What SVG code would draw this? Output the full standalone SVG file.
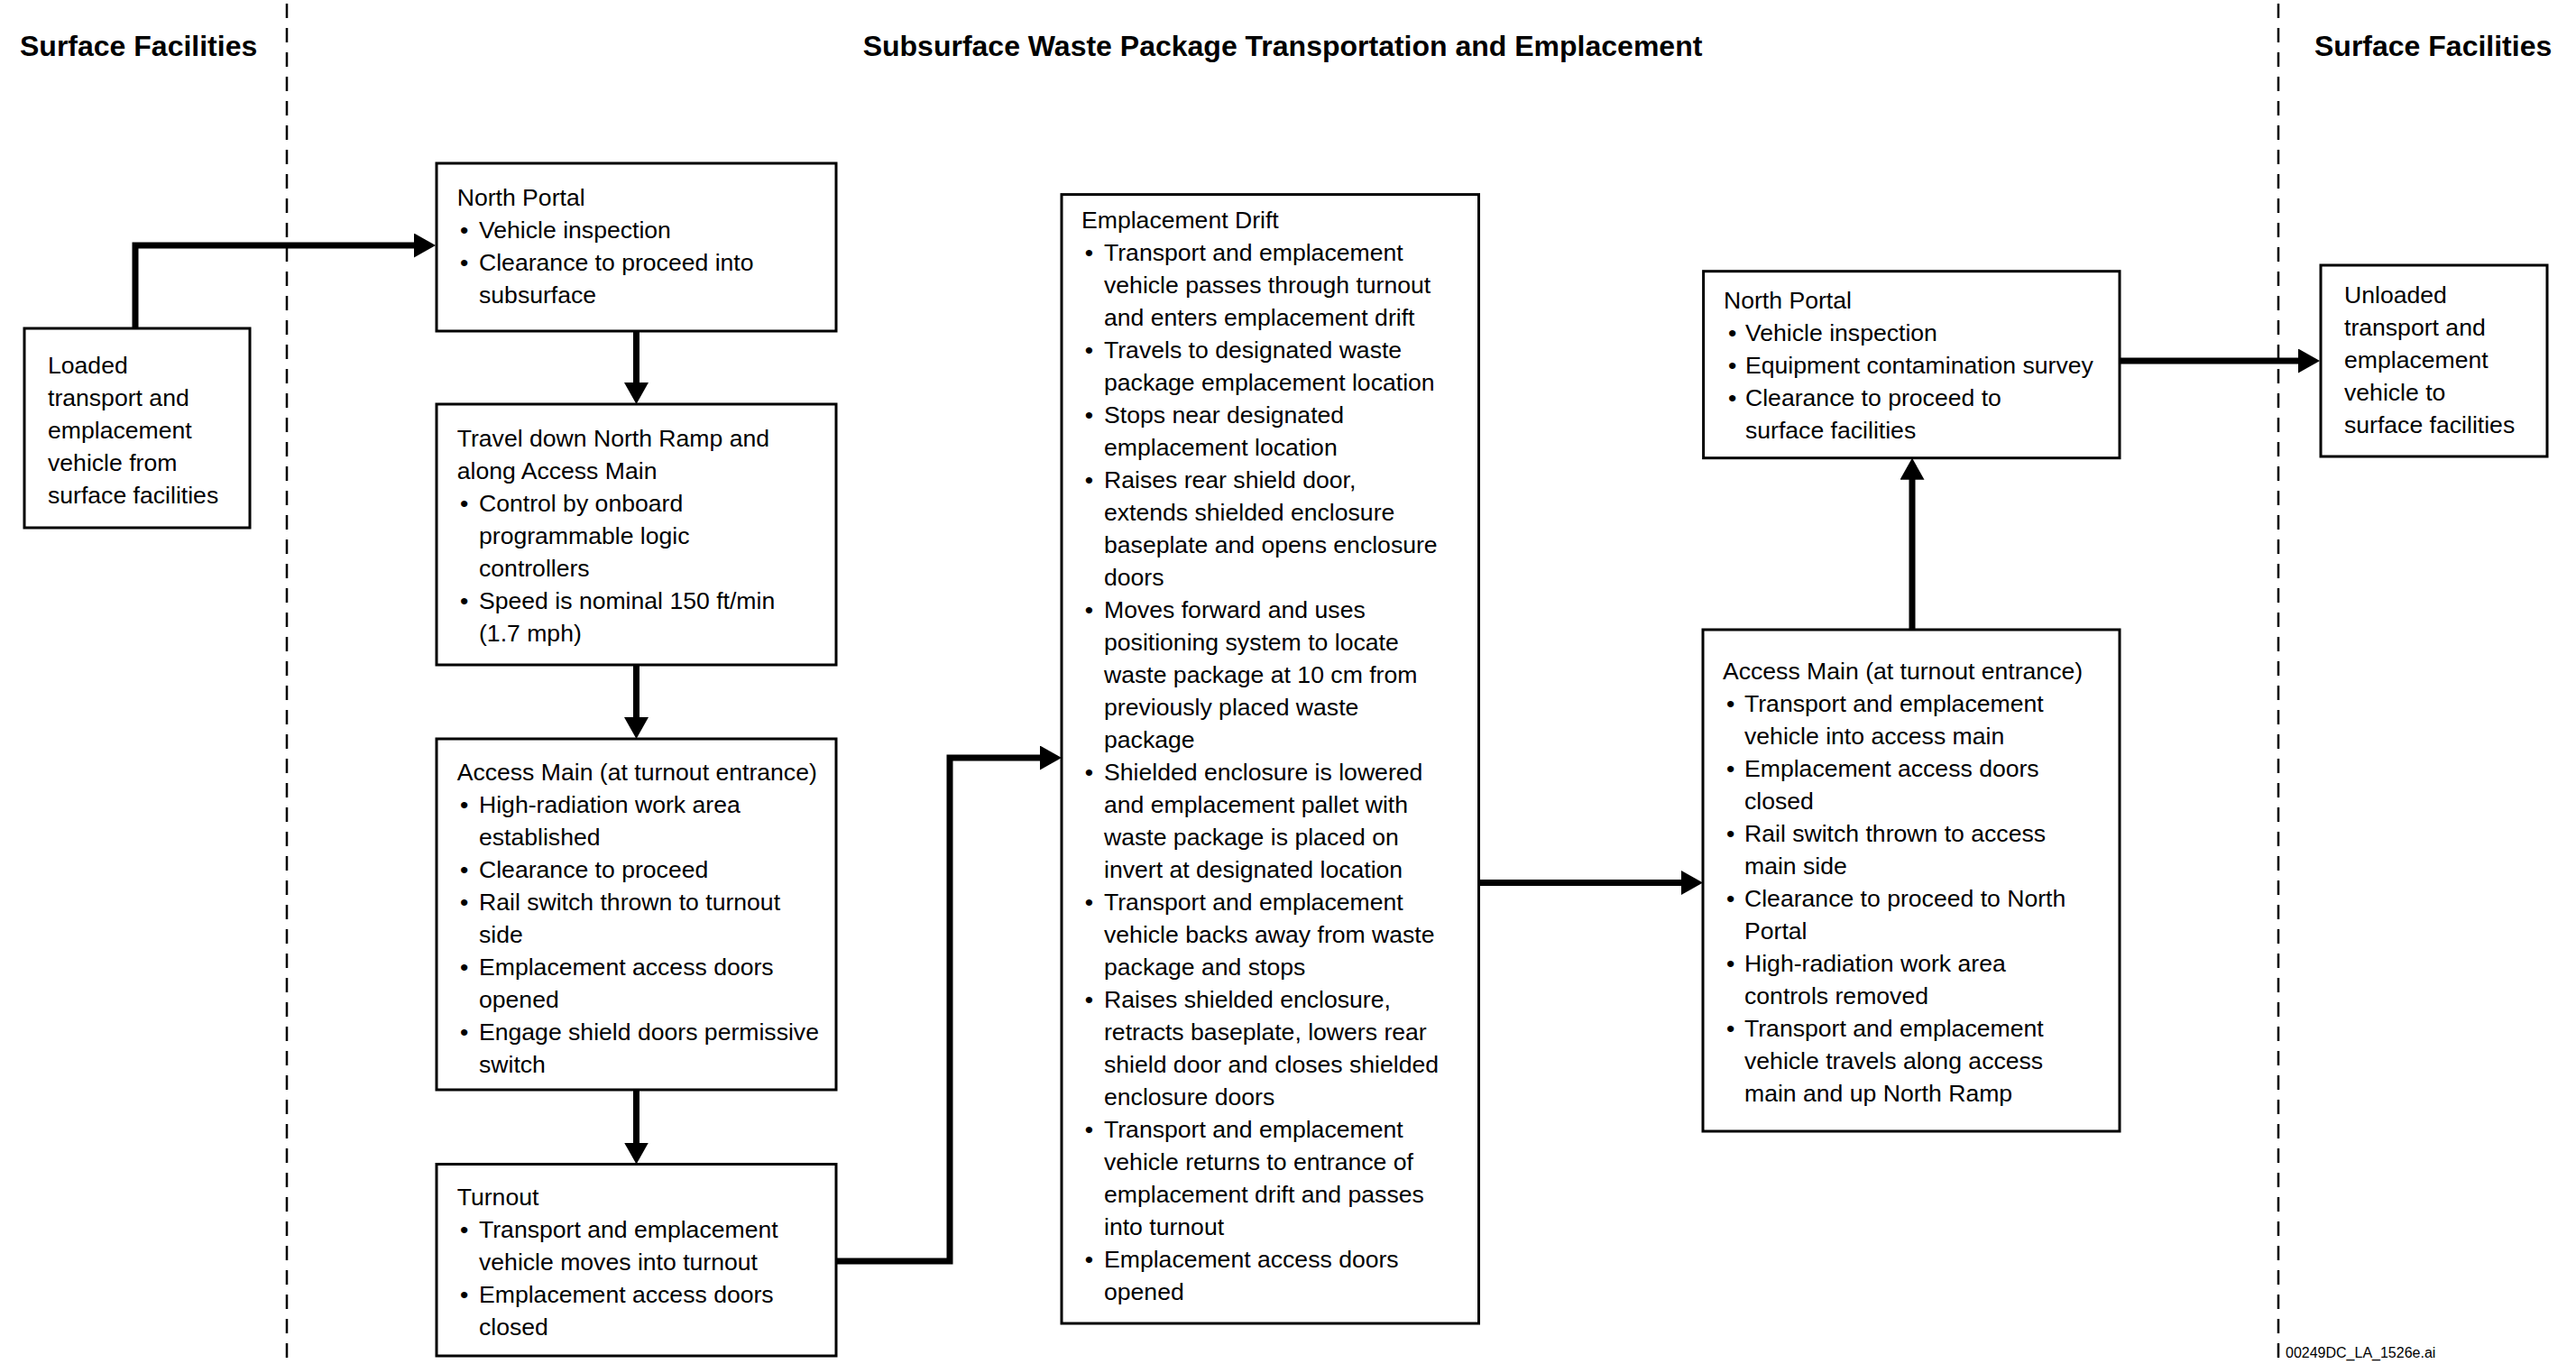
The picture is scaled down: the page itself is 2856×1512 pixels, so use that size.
<svg xmlns="http://www.w3.org/2000/svg" width="2856" height="1512" viewBox="0 0 2856 1512">
<style>
.box{fill:#fff;stroke:#000;stroke-width:3}
.t{font-family:"Liberation Sans",Arial,Helvetica,sans-serif;font-size:26.6px;fill:#000}
.h{font-family:"Liberation Sans",Arial,Helvetica,sans-serif;font-size:32px;font-weight:bold;fill:#000}
.conn{fill:none;stroke:#000;stroke-width:7;stroke-linejoin:miter;marker-end:url(#ah)}
.dash{stroke:#000;stroke-width:2.5;stroke-dasharray:16 11}
.foot{font-family:"Liberation Sans",Arial,Helvetica,sans-serif;font-size:16px;fill:#000}
</style>
<defs>
<marker id="ah" markerUnits="userSpaceOnUse" markerWidth="26" markerHeight="28" refX="10" refY="13.5" orient="auto">
<path d="M0,0 L24,13.5 L0,27 z" fill="#000"/>
</marker>
</defs>
<rect x="0" y="0" width="2856" height="1512" fill="#fff"/>

<g id="lanes">
<line class="dash" x1="318" y1="4" x2="318" y2="1512"/>
<line class="dash" x1="2526" y1="4" x2="2526" y2="1512"/>
<text class="h" x="22" y="62">Surface Facilities</text>
<text class="h" x="1422" y="62" text-anchor="middle">Subsurface Waste Package Transportation and Emplacement</text>
<text class="h" x="2566" y="62">Surface Facilities</text>
</g>

<g id="connectors">
<path class="conn" d="M150,364 V272 H469"/>
<path class="conn" d="M705.5,367 V434"/>
<path class="conn" d="M705.5,737 V805"/>
<path class="conn" d="M705.5,1208 V1276.5"/>
<path class="conn" d="M927,1398 H1053 V840 H1163"/>
<path class="conn" d="M1640,978.5 H1874"/>
<path class="conn" d="M2120,698 V521.7"/>
<path class="conn" d="M2350,400 H2558"/>
</g>

<g id="loaded">
<rect class="box" x="27" y="364" width="250" height="221"/>
<text class="t" x="53" y="414">Loaded</text>
<text class="t" x="53" y="450">transport and</text>
<text class="t" x="53" y="486">emplacement</text>
<text class="t" x="53" y="522">vehicle from</text>
<text class="t" x="53" y="558">surface facilities</text>
</g>

<g id="north-portal-in">
<rect class="box" x="484" y="181" width="443" height="186"/>
<text class="t" x="506.7" y="228">North Portal</text>
<text class="t" x="510" y="264">•</text><text class="t" x="531" y="264">Vehicle inspection</text>
<text class="t" x="510" y="300">•</text><text class="t" x="531" y="300">Clearance to proceed into</text>
<text class="t" x="531" y="336">subsurface</text>
</g>

<g id="travel-down">
<rect class="box" x="484" y="448" width="443" height="289"/>
<text class="t" x="506.7" y="495">Travel down North Ramp and</text>
<text class="t" x="506.7" y="531">along Access Main</text>
<text class="t" x="510" y="567">•</text><text class="t" x="531" y="567">Control by onboard</text>
<text class="t" x="531" y="603">programmable logic</text>
<text class="t" x="531" y="639">controllers</text>
<text class="t" x="510" y="675">•</text><text class="t" x="531" y="675">Speed is nominal 150 ft/min</text>
<text class="t" x="531" y="711">(1.7 mph)</text>
</g>

<g id="access-main-in">
<rect class="box" x="484" y="819" width="443" height="389"/>
<text class="t" x="506.7" y="865">Access Main (at turnout entrance)</text>
<text class="t" x="510" y="901">•</text><text class="t" x="531" y="901">High-radiation work area</text>
<text class="t" x="531" y="937">established</text>
<text class="t" x="510" y="973">•</text><text class="t" x="531" y="973">Clearance to proceed</text>
<text class="t" x="510" y="1009">•</text><text class="t" x="531" y="1009">Rail switch thrown to turnout</text>
<text class="t" x="531" y="1045">side</text>
<text class="t" x="510" y="1081">•</text><text class="t" x="531" y="1081">Emplacement access doors</text>
<text class="t" x="531" y="1117">opened</text>
<text class="t" x="510" y="1153">•</text><text class="t" x="531" y="1153">Engage shield doors permissive</text>
<text class="t" x="531" y="1189">switch</text>
</g>

<g id="turnout">
<rect class="box" x="484" y="1290.5" width="443" height="212.5"/>
<text class="t" x="506.7" y="1336">Turnout</text>
<text class="t" x="510" y="1372">•</text><text class="t" x="531" y="1372">Transport and emplacement</text>
<text class="t" x="531" y="1408">vehicle moves into turnout</text>
<text class="t" x="510" y="1444">•</text><text class="t" x="531" y="1444">Emplacement access doors</text>
<text class="t" x="531" y="1480">closed</text>
</g>

<g id="emplacement-drift">
<rect class="box" x="1177" y="215.6" width="462.5" height="1251.4"/>
<text class="t" x="1199" y="252.7">Emplacement Drift</text>
<text class="t" x="1202.7" y="288.7">•</text><text class="t" x="1224" y="288.7">Transport and emplacement</text>
<text class="t" x="1224" y="324.7">vehicle passes through turnout</text>
<text class="t" x="1224" y="360.7">and enters emplacement drift</text>
<text class="t" x="1202.7" y="396.7">•</text><text class="t" x="1224" y="396.7">Travels to designated waste</text>
<text class="t" x="1224" y="432.7">package emplacement location</text>
<text class="t" x="1202.7" y="468.7">•</text><text class="t" x="1224" y="468.7">Stops near designated</text>
<text class="t" x="1224" y="504.7">emplacement location</text>
<text class="t" x="1202.7" y="540.7">•</text><text class="t" x="1224" y="540.7">Raises rear shield door,</text>
<text class="t" x="1224" y="576.7">extends shielded enclosure</text>
<text class="t" x="1224" y="612.7">baseplate and opens enclosure</text>
<text class="t" x="1224" y="648.7">doors</text>
<text class="t" x="1202.7" y="684.7">•</text><text class="t" x="1224" y="684.7">Moves forward and uses</text>
<text class="t" x="1224" y="720.7">positioning system to locate</text>
<text class="t" x="1224" y="756.7">waste package at 10 cm from</text>
<text class="t" x="1224" y="792.7">previously placed waste</text>
<text class="t" x="1224" y="828.7">package</text>
<text class="t" x="1202.7" y="864.7">•</text><text class="t" x="1224" y="864.7">Shielded enclosure is lowered</text>
<text class="t" x="1224" y="900.7">and emplacement pallet with</text>
<text class="t" x="1224" y="936.7">waste package is placed on</text>
<text class="t" x="1224" y="972.7">invert at designated location</text>
<text class="t" x="1202.7" y="1008.7">•</text><text class="t" x="1224" y="1008.7">Transport and emplacement</text>
<text class="t" x="1224" y="1044.7">vehicle backs away from waste</text>
<text class="t" x="1224" y="1080.7">package and stops</text>
<text class="t" x="1202.7" y="1116.7">•</text><text class="t" x="1224" y="1116.7">Raises shielded enclosure,</text>
<text class="t" x="1224" y="1152.7">retracts baseplate, lowers rear</text>
<text class="t" x="1224" y="1188.7">shield door and closes shielded</text>
<text class="t" x="1224" y="1224.7">enclosure doors</text>
<text class="t" x="1202.7" y="1260.7">•</text><text class="t" x="1224" y="1260.7">Transport and emplacement</text>
<text class="t" x="1224" y="1296.7">vehicle returns to entrance of</text>
<text class="t" x="1224" y="1332.7">emplacement drift and passes</text>
<text class="t" x="1224" y="1368.7">into turnout</text>
<text class="t" x="1202.7" y="1404.7">•</text><text class="t" x="1224" y="1404.7">Emplacement access doors</text>
<text class="t" x="1224" y="1440.7">opened</text>
</g>

<g id="access-main-out">
<rect class="box" x="1888" y="698" width="462" height="556"/>
<text class="t" x="1910" y="752.7">Access Main (at turnout entrance)</text>
<text class="t" x="1914" y="788.7">•</text><text class="t" x="1934" y="788.7">Transport and emplacement</text>
<text class="t" x="1934" y="824.7">vehicle into access main</text>
<text class="t" x="1914" y="860.7">•</text><text class="t" x="1934" y="860.7">Emplacement access doors</text>
<text class="t" x="1934" y="896.7">closed</text>
<text class="t" x="1914" y="932.7">•</text><text class="t" x="1934" y="932.7">Rail switch thrown to access</text>
<text class="t" x="1934" y="968.7">main side</text>
<text class="t" x="1914" y="1004.7">•</text><text class="t" x="1934" y="1004.7">Clearance to proceed to North</text>
<text class="t" x="1934" y="1040.7">Portal</text>
<text class="t" x="1914" y="1076.7">•</text><text class="t" x="1934" y="1076.7">High-radiation work area</text>
<text class="t" x="1934" y="1112.7">controls removed</text>
<text class="t" x="1914" y="1148.7">•</text><text class="t" x="1934" y="1148.7">Transport and emplacement</text>
<text class="t" x="1934" y="1184.7">vehicle travels along access</text>
<text class="t" x="1934" y="1220.7">main and up North Ramp</text>
</g>

<g id="north-portal-out">
<rect class="box" x="1888.6" y="300.7" width="461.4" height="207"/>
<text class="t" x="1911" y="341.7">North Portal</text>
<text class="t" x="1916" y="377.7">•</text><text class="t" x="1935" y="377.7">Vehicle inspection</text>
<text class="t" x="1916" y="413.7">•</text><text class="t" x="1935" y="413.7">Equipment contamination survey</text>
<text class="t" x="1916" y="449.7">•</text><text class="t" x="1935" y="449.7">Clearance to proceed to</text>
<text class="t" x="1935" y="485.7">surface facilities</text>
</g>

<g id="unloaded">
<rect class="box" x="2573" y="294" width="251" height="212"/>
<text class="t" x="2599" y="335.7">Unloaded</text>
<text class="t" x="2599" y="371.7">transport and</text>
<text class="t" x="2599" y="407.7">emplacement</text>
<text class="t" x="2599" y="443.7">vehicle to</text>
<text class="t" x="2599" y="479.7">surface facilities</text>
</g>

<text class="foot" x="2534" y="1505">00249DC_LA_1526e.ai</text>
</svg>
